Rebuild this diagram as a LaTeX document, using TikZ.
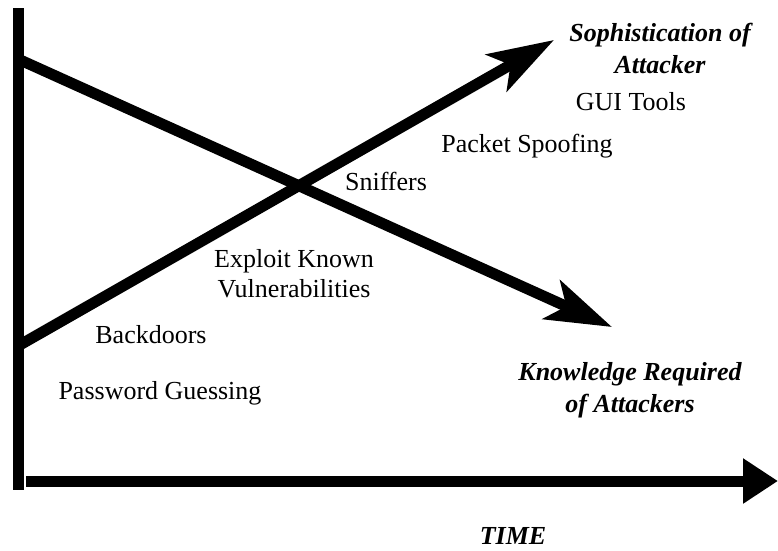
\documentclass[tikz,border=0pt]{standalone}
\usepackage{fontspec}
\setmainfont{Liberation Serif}
\usetikzlibrary{arrows.meta}
\tikzstyle{axis} = [line width=11pt]
\tikzstyle{trend} = [line width=11pt, -{Stealth[length=66pt,width=42pt,inset=16pt]}]
\tikzstyle{tool} = [font={\fontsize{26}{30}\selectfont}, anchor=base, inner sep=0pt, align=center]
\tikzstyle{heading} = [tool, font={\fontsize{26}{32}\selectfont\bfseries\itshape}]

\begin{document}
\begin{tikzpicture}[x=1pt,y=-1pt]
    \useasboundingbox (0,0) rectangle (778,550);
    \coordinate (top) at (18,8);
    \coordinate (bottom) at (18,490);
    \coordinate (t0) at (26,481);
    \coordinate (t1) at (778,481);
    \coordinate (k0) at (18,59);
    \coordinate (k1) at (612,327);
    \coordinate (s0) at (18,346);
    \coordinate (s1) at (554,40);
    \draw[axis](top)--(bottom);
    \draw[axis,-{Triangle[length=35pt,width=43pt]}](t0)--(t1);
    \draw[trend](k0)--(k1);
    \draw[trend](s0)--(s1);
    % two-line labels sit on their last baseline
    \node[heading](soph) at (660,73){Sophistication of\\Attacker};
    \node[heading](know) at (630,412){Knowledge Required\\of Attackers};
    \node[heading](time) at (513,544){TIME};
    \node[tool](gui) at (631,110){GUI Tools};
    \node[tool](spoof) at (527,152){Packet Spoofing};
    \node[tool](sniff) at (386,190){Sniffers};
    \node[tool](exploit) at (294,297){Exploit Known\\Vulnerabilities};
    \node[tool](back) at (151,343){Backdoors};
    \node[tool](pass) at (160,399){Password Guessing};
  \end{tikzpicture}
\end{document}
